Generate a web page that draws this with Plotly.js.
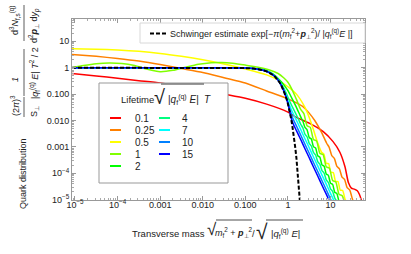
<!DOCTYPE html>
<html><head><meta charset="utf-8">
<script src="https://cdn.plot.ly/plotly-3.0.1.min.js"></script>
<style>html,body{margin:0;padding:0;background:#fff;}#chart{width:411px;height:254px;}</style>
</head><body><div id="chart"></div>
<script>
// ---- data (log10 of transverse mass, log10 of quark distribution) ----
const lifetimes = ['0.1', '0.25', '0.5', '1', '2', '4', '7', '10', '15'];

const logM_T01 = [-5.07,-4.5,-4,-3.5,-3,-2.5,-2,-1.5,-1,-0.5,0,0.2,0.5,0.83,1.06,1.22,1.34,1.42,1.49,1.56,1.63,1.68,1.72,1.75];
const logN_T01 = [-0.22,-0.31,-0.40,-0.49,-0.58,-0.70,-0.84,-1.0,-1.16,-1.38,-1.68,-1.88,-2.1,-2.42,-2.8,-3.2,-3.75,-4.35,-4.56,-4.6,-4.66,-4.8,-5.0,-5.3];

const logM_T025 = [-5.07,-4.5,-4,-3.5,-3,-2.5,-2,-1.5,-1,-0.5,0,0.2,0.36,0.5,0.63,0.79,0.91,0.97,1.03,1.09,1.15,1.21,1.27,1.33,1.39,1.45,1.51,1.56];
const logN_T025 = [0.50,0.43,0.35,0.25,0.12,-0.03,-0.18,-0.38,-0.58,-0.88,-1.18,-1.33,-1.48,-1.72,-2.0,-2.45,-2.86,-3.02,-3.33,-3.43,-3.74,-3.83,-4.14,-4.23,-4.54,-4.63,-4.95,-5.2];

const logM_T05 = [-5.07,-4.5,-4,-3.5,-3,-2.5,-2,-1.5,-1,-0.5,-0.25,0,0.2,0.4,0.5,0.6,0.7,0.79,0.845,0.9,0.955,1.01,1.065,1.12,1.175,1.23,1.285,1.34,1.4];
const logN_T05 = [0.72,0.70,0.67,0.62,0.54,0.43,0.30,0.14,-0.05,-0.27,-0.45,-0.72,-1.0,-1.5,-1.88,-2.35,-2.85,-3.2,-3.27,-3.62,-3.63,-3.96,-3.97,-4.3,-4.31,-4.64,-4.65,-4.97,-5.15];

const logM_T1 = [-5.07,-4.8,-4.5,-4.2,-3.9,-3.6,-3.3,-3.0,-2.7,-2.4,-2.1,-1.8,-1.55,-1.3,-1.0,-0.7,-0.45,-0.23,-0.1,0,0.1,0.2,0.3,0.375,0.45,0.525,0.6,0.675,0.75,0.825,0.9,0.975,1.05,1.125,1.2,1.275,1.35];
const logN_T1 = [0,0.08,0.15,0.18,0.16,0.08,-0.06,-0.15,-0.10,0.02,0.13,0.19,0.20,0.17,0.10,0.02,-0.08,-0.22,-0.38,-0.55,-0.84,-1.2,-1.58,-1.74,-2.2,-2.26,-2.72,-2.78,-3.24,-3.29,-3.75,-3.81,-4.27,-4.33,-4.79,-4.85,-5.25];

const logM_T2 = [-5.07,-3,-1.5,-1.0,-0.8,-0.6,-0.4,-0.3,-0.2,-0.1,0,0.1,0.2,0.3,0.35,0.4,0.45,0.5,0.55,0.6,0.65,0.7,0.75,0.8,0.85,0.9,0.95,1.0,1.05,1.1,1.15,1.2,1.25];
const logN_T2 = [0,0,-0.002,-0.014,-0.035,-0.07,-0.19,-0.3,-0.46,-0.64,-0.87,-1.18,-1.5,-1.86,-2.02,-2.26,-2.35,-2.645,-2.70,-2.99,-3.04,-3.335,-3.39,-3.68,-3.73,-4.025,-4.08,-4.37,-4.42,-4.715,-4.77,-5.06,-5.2];

const logM_T4 = [-5.07,-3,-1.5,-1.0,-0.8,-0.6,-0.4,-0.3,-0.2,-0.1,-0.05,0,0.05,0.1,0.15,0.2,0.25,0.3,0.35,0.4,0.45,0.5,0.55,0.6,0.65,0.7,0.75,0.8,0.85,0.9,0.95,1.0,1.05,1.1,1.15,1.2];
const logN_T4 = [0,0,-0.002,-0.014,-0.035,-0.08,-0.2,-0.32,-0.5,-0.76,-0.93,-1.12,-1.30,-1.47,-1.63,-1.79,-1.96,-2.14,-2.275,-2.515,-2.615,-2.865,-2.965,-3.205,-3.305,-3.555,-3.655,-3.895,-3.995,-4.245,-4.345,-4.585,-4.685,-4.935,-5.07,-5.24];

const logM_T7 = [-5.07,-3,-1.5,-1.0,-0.8,-0.6,-0.4,-0.3,-0.2,-0.1,-0.05,0,0.05,0.1,0.15,0.2,0.25,0.3,0.4,0.5,0.6,0.7,0.8,0.9,1.0,1.1];
const logN_T7 = [0,0,-0.002,-0.014,-0.035,-0.085,-0.21,-0.335,-0.53,-0.83,-1.03,-1.25,-1.47,-1.66,-1.83,-1.99,-2.16,-2.34,-2.69,-3.03,-3.38,-3.72,-4.07,-4.41,-4.76,-5.1];

const logM_T10 = [-5.07,-3,-1.5,-1.0,-0.8,-0.6,-0.4,-0.3,-0.2,-0.1,-0.05,0,0.05,0.1,0.15,0.2,0.3,0.4,0.5,0.6,0.7,0.8,0.9,1.0,1.1];
const logN_T10 = [0,0,-0.002,-0.014,-0.035,-0.086,-0.215,-0.34,-0.54,-0.85,-1.07,-1.33,-1.6,-1.86,-2.04,-2.2,-2.55,-2.9,-3.24,-3.59,-3.93,-4.28,-4.62,-4.97,-5.31];

const logM_T15 = [-5.07,-3,-1.5,-1.0,-0.8,-0.6,-0.4,-0.3,-0.2,-0.1,-0.05,0,0.05,0.1,0.15,0.2,0.3,0.4,0.5,0.6,0.7,0.8,0.9,1.0];
const logN_T15 = [0,0,-0.001,-0.014,-0.034,-0.086,-0.216,-0.343,-0.543,-0.86,-1.083,-1.36,-1.72,-2.03,-2.22,-2.38,-2.72,-3.07,-3.41,-3.76,-4.1,-4.45,-4.79,-5.14];

const logM_schwinger = [-5.07,-3,-1.5,-1,-0.8,-0.7,-0.6,-0.5,-0.45,-0.4,-0.35,-0.3,-0.25,-0.2,-0.15,-0.1,-0.05,0,0.025,0.05,0.075,0.1,0.125,0.15,0.175,0.2,0.225,0.25,0.275,0.3];
const logN_schwinger = [0,0,-0.001,-0.014,-0.034,-0.054,-0.086,-0.136,-0.172,-0.216,-0.272,-0.343,-0.432,-0.543,-0.684,-0.861,-1.084,-1.364,-1.531,-1.718,-1.927,-2.163,-2.426,-2.722,-3.055,-3.427,-3.845,-4.315,-4.841,-5.432];

const tickValues = [1e-5, 1e-4, 1e-3, 1e-2, 1e-1, 1, 10];
const xTickLabels = ['10<sup>−5</sup>', '10<sup>−4</sup>', '0.001', '0.010', '0.100', '1', '10'];
const yTickLabels = ['10<sup>−5</sup>', '10<sup>−4</sup>', '0.001', '0.010', '0.100', '1', '10'];

// ---- styling ----
const colors = ['#ff0000', '#ff8000', '#ffff00', '#80ff00', '#00ff00', '#00ff80', '#00ffff', '#0080ff', '#0000ff'];
const FONT = 'Liberation Sans, Arial, sans-serif';
const seriesM = [logM_T01, logM_T025, logM_T05, logM_T1, logM_T2, logM_T4, logM_T7, logM_T10, logM_T15];
const seriesN = [logN_T01, logN_T025, logN_T05, logN_T1, logN_T2, logN_T4, logN_T7, logN_T10, logN_T15];
const pow10 = v => Math.pow(10, v);

const traces = lifetimes.map((name, i) => ({
  type: 'scatter', mode: 'lines', name: name,
  x: seriesM[i].map(pow10), y: seriesN[i].map(pow10),
  line: { color: colors[i], width: 1.5, shape: 'spline', smoothing: 0.6 },
  showlegend: false, hoverinfo: 'skip'
}));
traces.push({
  type: 'scatter', mode: 'lines', name: 'Schwinger estimate',
  x: logM_schwinger.map(pow10), y: logN_schwinger.map(pow10),
  line: { color: '#000', width: 2, dash: '4px,2px' },
  showlegend: false, hoverinfo: 'skip'
});

// plot area in pixels: x 72..365, y 19..200
const PL = 72, PR = 365, PT = 19, PB = 200;
const px2x = p => (p - PL) / (PR - PL);
const py2y = p => (PB - p) / (PB - PT);
function ann(text, x, y, size, extra) {
  return Object.assign({ text, x: px2x(x), y: py2y(y), xref: 'paper', yref: 'paper', showarrow: false,
    xanchor: 'center', yanchor: 'middle', font: { family: FONT, size: size, color: '#222' } }, extra || {});
}
function seg(x0, y0, x1, y1, color, width, dash) {
  return { type: 'line', xref: 'paper', yref: 'paper', x0: px2x(x0), y0: py2y(y0), x1: px2x(x1), y1: py2y(y1),
    line: { color: color, width: width, dash: dash || 'solid' }, layer: 'above' };
}
function box(x0, y0, x1, y1, border) {
  return { type: 'rect', xref: 'paper', yref: 'paper', x0: px2x(x0), y0: py2y(y0), x1: px2x(x1), y1: py2y(y1),
    fillcolor: '#fff', line: { color: border, width: 1 }, layer: 'above' };
}

const shapes = [];
const annotations = [];

// Schwinger legend
shapes.push(box(140, 23, 365, 43, '#d8d8d8'));
shapes.push(seg(150, 33.5, 166, 33.5, '#000', 2, '4px,2px'));
annotations.push(ann('Schwinger estimate exp[−<i>π</i>(<i>m</i><sub>f</sub><sup>2</sup>+<b><i>p</i></b><sub>⊥</sub><sup>2</sup>)/ |<i>q</i><sub>f</sub><sup>(q)</sup><i>E</i> |]', 168, 33.5, 9, { xanchor: 'left' }));

// Lifetime legend
shapes.push(box(99, 83, 228, 183, '#999'));
shapes.push(seg(161, 84, 204, 84, '#777', 1.5));
annotations.push(ann('Lifetime', 119, 99, 9.5, { xanchor: 'left' }));
annotations.push(ann('√', 159, 97, 20));
annotations.push(ann('|<i>q</i><sub>f</sub><sup>(q)</sup> <i>E</i>|', 183, 99, 10));
annotations.push(ann('<i>T</i>', 207, 99, 10));
const legRows = [118, 130, 142, 154, 166];
lifetimes.forEach((name, i) => {
  const col = i < 5 ? 0 : 1;
  const row = i < 5 ? i : i - 5;
  const lx = col === 0 ? 110 : 159;
  const tx = col === 0 ? 133 : 180;
  shapes.push(seg(lx, legRows[row], lx + 11, legRows[row], colors[i], 2));
  annotations.push(ann(name, tx, legRows[row], 10, { xanchor: 'left' }));
});

// y-axis title (stacked fractions, rotated)
const rot = { textangle: -90 };
annotations.push(ann('Quark distribution', 23, 174, 9, rot));
annotations.push(ann('(2<i>π</i>)<sup>3</sup>', 15, 106, 9, rot));
annotations.push(ann('S<sub>⊥</sub>', 34, 112, 9, rot));
annotations.push(ann('<i>1</i>', 15, 80, 9, rot));
annotations.push(ann('|<i>q</i><sub>f</sub><sup>(q)</sup> <i>E</i>| <i>T</i><sup>2</sup> / 2', 34, 73, 9, rot));
annotations.push(ann('d<sup>3</sup><i>N</i><sub>f,s</sub><sup>(q)</sup>', 15, 21, 9, rot));
annotations.push(ann('d<sup>2</sup><b><i>p</i></b><sub>⊥</sub> d<i>y</i><sub><i>p</i></sub>', 34, 26, 9, rot));
shapes.push(seg(24, 97, 24, 117, '#333', 0.8));
shapes.push(seg(24, 49, 24, 96, '#333', 0.8));
shapes.push(seg(24, 5, 24, 41, '#333', 0.8));

// x-axis title
annotations.push(ann('Transverse mass', 168.5, 233, 9.5));
annotations.push(ann('√', 212, 229.5, 17));
annotations.push(ann('<i>m</i><sub>f</sub><sup>2</sup> + <b><i>p</i></b><sub>⊥</sub><sup>2</sup>', 234, 232, 9));
annotations.push(ann('/', 253, 233, 9.5));
annotations.push(ann('√', 262, 231, 21));
annotations.push(ann('|<i>q</i><sub>f</sub><sup>(q)</sup> <i>E</i>|', 285, 233, 9.5));
shapes.push(seg(216, 220, 252, 220, '#222', 0.8));
shapes.push(seg(266, 220, 303, 220, '#222', 0.8));

// minor tick positions (2..9 within each decade)
const minorVals = [];
for (let e = -6; e <= 1; e++) for (let k = 2; k <= 9; k++) minorVals.push(k * Math.pow(10, e));

const axisCommon = {
  type: 'log', tickmode: 'array', tickvals: tickValues,
  ticks: 'inside', ticklen: 4, tickwidth: 1, tickcolor: '#999',
  showline: true, linecolor: '#999', linewidth: 1, mirror: 'allticks',
  showgrid: false, zeroline: false,
  tickfont: { family: FONT, size: 9, color: '#222' },
  minor: { tickmode: 'array', tickvals: minorVals, ticks: 'inside', ticklen: 2, tickcolor: '#aaa', showgrid: false }
};

const layout = {
  width: 411, height: 254,
  margin: { l: PL, r: 411 - PR, t: PT, b: 254 - PB },
  paper_bgcolor: '#fff', plot_bgcolor: '#fff',
  showlegend: false,
  xaxis: Object.assign({}, axisCommon, { range: [-5.07, 1.81], ticktext: xTickLabels, ticklabelstandoff: -4 }),
  yaxis: Object.assign({}, axisCommon, { range: [-5.01, 1.845], ticktext: yTickLabels }),
  shapes: shapes, annotations: annotations
};

Plotly.newPlot('chart', traces, layout, { staticPlot: true, displayModeBar: false });
</script></body></html>
